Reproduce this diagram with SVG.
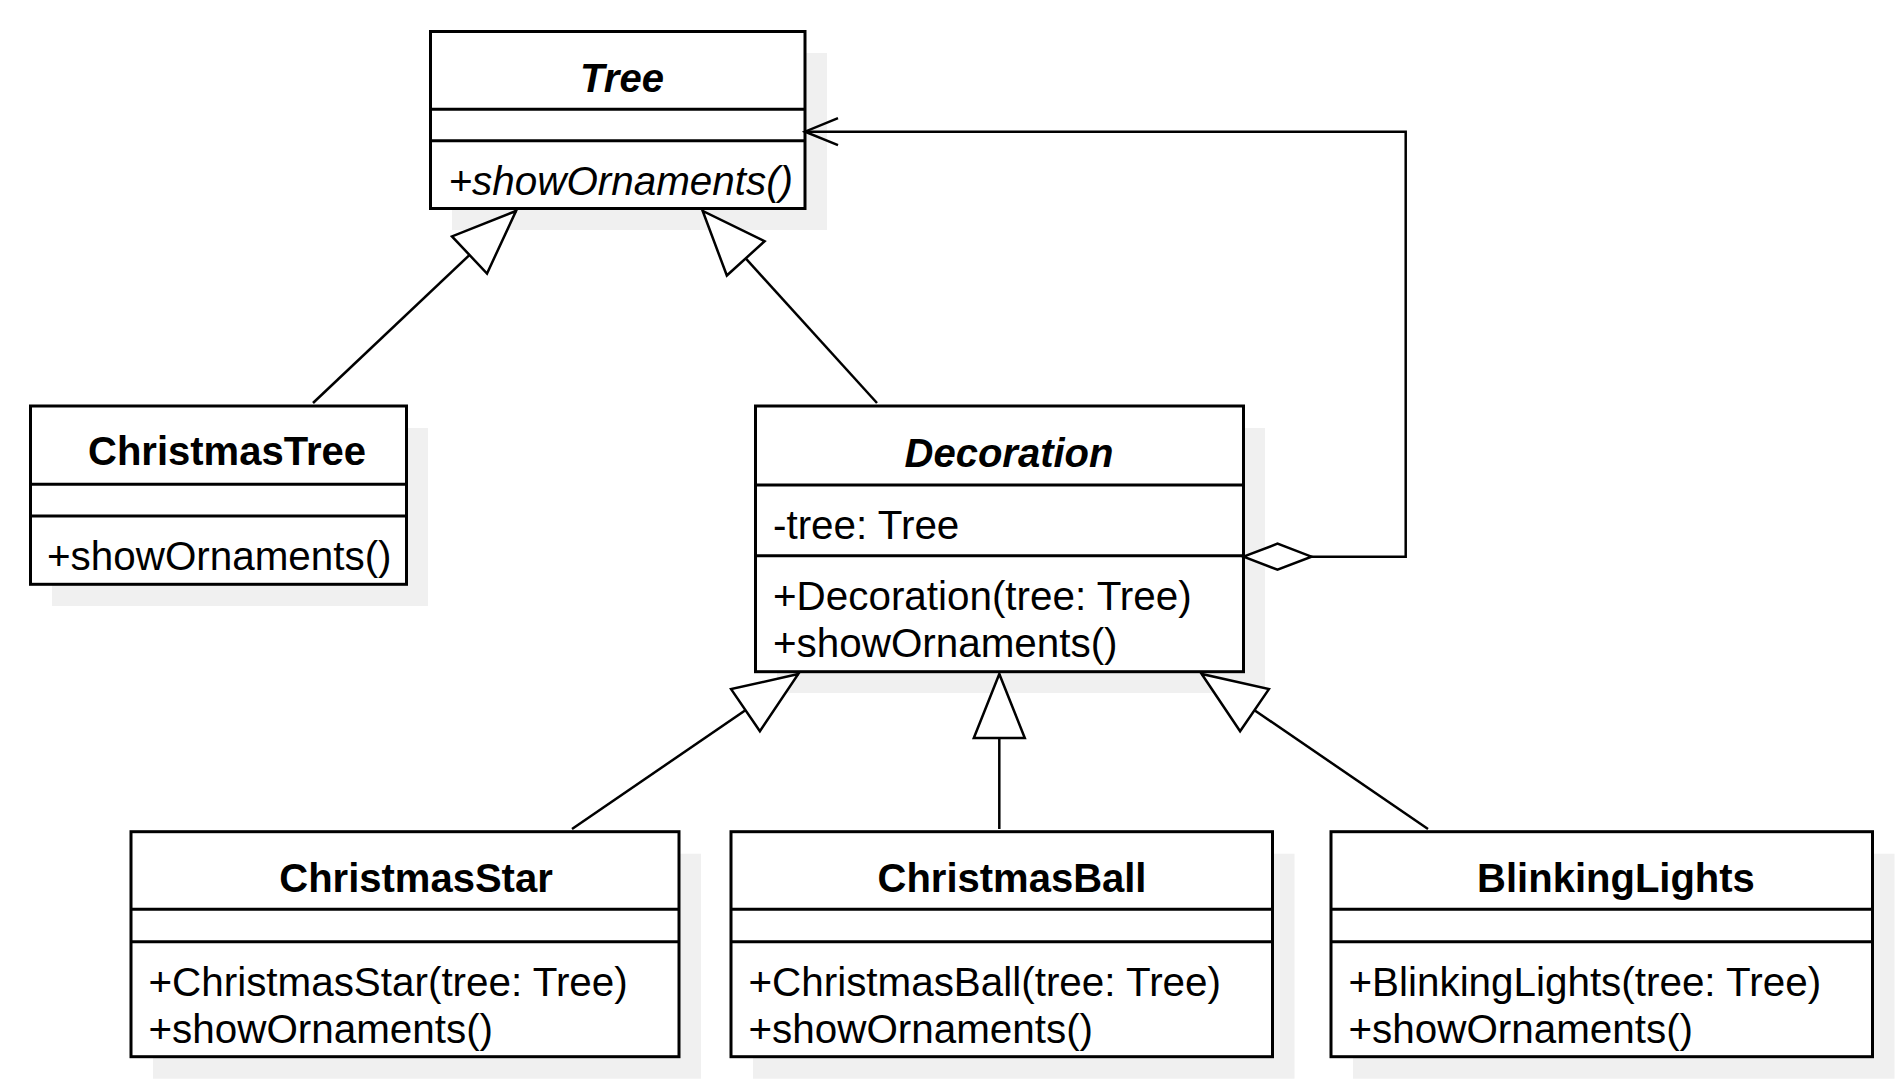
<svg xmlns="http://www.w3.org/2000/svg" width="1904" height="1088" viewBox="0 0 1904 1088">
<style>
.shadow{fill:#f0f0f0;stroke:none}
.box{fill:#ffffff;stroke:#000000;stroke-width:3}
.div{stroke:#000000;stroke-width:3}
.title{font-family:"Liberation Sans",Arial,sans-serif;font-size:40px;font-weight:bold;text-anchor:middle;fill:#000}
.abs{font-style:italic}
.m{font-family:"Liberation Sans",Arial,sans-serif;font-size:40.4px;fill:#000}
.it{font-style:italic}
.conn{fill:none;stroke:#000000;stroke-width:2.5}
</style>
<defs>
<marker id="gen" viewBox="-68 -29 72 58" refX="0" refY="0" markerWidth="72" markerHeight="58" markerUnits="userSpaceOnUse" orient="auto">
<path d="M0,0 L-64,-25.5 L-64,25.5 Z" fill="#ffffff" stroke="#000000" stroke-width="2.5" stroke-linejoin="miter"/>
</marker>
<marker id="open" viewBox="-36 -16 40 32" refX="0" refY="0" markerWidth="40" markerHeight="32" markerUnits="userSpaceOnUse" orient="auto">
<path d="M-33,-13.5 L0,0 L-33,13.5" fill="none" stroke="#000000" stroke-width="2.5"/>
</marker>
<marker id="agg" viewBox="-3 -16 74 32" refX="0" refY="0" markerWidth="74" markerHeight="32" markerUnits="userSpaceOnUse" orient="auto">
<path d="M0,0 L34,-13 L68,0 L34,13 Z" fill="#ffffff" stroke="#000000" stroke-width="2.5"/>
</marker>
</defs>
<rect width="1904" height="1088" fill="#ffffff"/>

<g id="Tree">
<rect class="shadow" x="452" y="53" width="375" height="177"/>
<rect class="box" x="430.5" y="31.5" width="374.5" height="177"/>
<line class="div" x1="430.5" y1="109.3" x2="805" y2="109.3"/>
<line class="div" x1="430.5" y1="140.7" x2="805" y2="140.7"/>
<text class="title abs" x="622" y="92">Tree</text>
<text class="m it" x="448.5" y="195">+showOrnaments()</text>
</g>

<g id="ChristmasTree">
<rect class="shadow" x="52" y="428" width="376" height="178"/>
<rect class="box" x="30.5" y="406" width="376" height="178.3"/>
<line class="div" x1="30.5" y1="484.3" x2="406.5" y2="484.3"/>
<line class="div" x1="30.5" y1="516" x2="406.5" y2="516"/>
<text class="title" x="227" y="465">ChristmasTree</text>
<text class="m" x="47" y="570">+showOrnaments()</text>
</g>

<g id="Decoration">
<rect class="shadow" x="777" y="428" width="488" height="265"/>
<rect class="box" x="755.5" y="406" width="488" height="265.7"/>
<line class="div" x1="755.5" y1="485" x2="1243.5" y2="485"/>
<line class="div" x1="755.5" y1="555.7" x2="1243.5" y2="555.7"/>
<text class="title abs" x="1009" y="466.5">Decoration</text>
<text class="m" x="773" y="538.5">-tree: Tree</text>
<text class="m" x="773" y="610">+Decoration(tree: Tree)</text>
<text class="m" x="773" y="656.7">+showOrnaments()</text>
</g>

<g id="ChristmasStar">
<rect class="shadow" x="153" y="853.7" width="548" height="225"/>
<rect class="box" x="131" y="831.7" width="548" height="225"/>
<line class="div" x1="131" y1="909.3" x2="679" y2="909.3"/>
<line class="div" x1="131" y1="941.7" x2="679" y2="941.7"/>
<text class="title" x="416" y="891.7">ChristmasStar</text>
<text class="m" x="148.5" y="996">+ChristmasStar(tree: Tree)</text>
<text class="m" x="148.5" y="1042.7">+showOrnaments()</text>
</g>

<g id="ChristmasBall">
<rect class="shadow" x="753" y="853.7" width="541.5" height="225"/>
<rect class="box" x="731" y="831.7" width="541.5" height="225"/>
<line class="div" x1="731" y1="909.3" x2="1272.5" y2="909.3"/>
<line class="div" x1="731" y1="941.7" x2="1272.5" y2="941.7"/>
<text class="title" x="1012" y="891.7">ChristmasBall</text>
<text class="m" x="748.5" y="996">+ChristmasBall(tree: Tree)</text>
<text class="m" x="748.5" y="1042.7">+showOrnaments()</text>
</g>

<g id="BlinkingLights">
<rect class="shadow" x="1353" y="853.7" width="541.5" height="225"/>
<rect class="box" x="1331" y="831.7" width="541.5" height="225"/>
<line class="div" x1="1331" y1="909.3" x2="1872.5" y2="909.3"/>
<line class="div" x1="1331" y1="941.7" x2="1872.5" y2="941.7"/>
<text class="title" x="1616" y="891.7">BlinkingLights</text>
<text class="m" x="1348.5" y="996">+BlinkingLights(tree: Tree)</text>
<text class="m" x="1348.5" y="1042.7">+showOrnaments()</text>
</g>

<g id="connectors">
<path class="conn" d="M313,403 L516,211" marker-end="url(#gen)"/>
<path class="conn" d="M877,403 L702.7,211" marker-end="url(#gen)"/>
<path class="conn" d="M572,829 L798.3,674" marker-end="url(#gen)"/>
<path class="conn" d="M999.3,829 L999.3,674" marker-end="url(#gen)"/>
<path class="conn" d="M1428,829 L1201.7,674" marker-end="url(#gen)"/>
<path class="conn" d="M1243.5,556.7 H1405.7 V131.7 H805" marker-start="url(#agg)" marker-end="url(#open)"/>
</g>
</svg>
